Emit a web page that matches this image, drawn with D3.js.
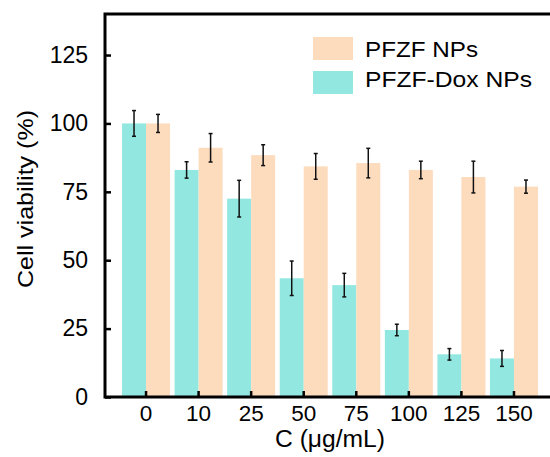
<!DOCTYPE html>
<html><head><meta charset="utf-8">
<script src="https://cdn.jsdelivr.net/npm/d3@7"></script>
<style>body{margin:0;background:#fff}svg{display:block;font-family:"Liberation Sans",Arial,sans-serif}</style>
</head><body><svg id="c" width="550" height="457"></svg>
<script>
const categories = ["0","10","25","50","75","100","125","150"];
const doxValues = [100, 83, 72.5, 43.4, 40.9, 24.5, 15.6, 14.1];
const doxErrors = [4.7, 3, 6.7, 6.3, 4.3, 2.1, 2.1, 2.9];
const npValues = [100, 91.1, 88.4, 84.3, 85.5, 83, 80.4, 76.9];
const npErrors = [3.3, 5.2, 3.8, 4.7, 5.4, 3.2, 5.8, 2.4];
const yTicks = [0, 25, 50, 75, 100, 125];
const seriesNames = ["PFZF NPs", "PFZF-Dox NPs"];
const colors = {np: "#fddbbd", dox: "#92e8e0"};

(function(){
const svg = d3.select("#c");
const mL = 105, mT = 14, mB = 397, mR = 550;
const x = d3.scaleBand().domain(categories).range([119.75, 540.25]).paddingInner(0).paddingOuter(0);
const y = d3.scaleLinear().domain([0, 140]).range([mB, mT]);
const bw = 24;

const g = svg.append("g");
categories.forEach((c, i) => {
  const cx = x(c) + x.bandwidth() / 2;
  g.append("rect").attr("x", cx - bw).attr("width", bw).attr("y", y(doxValues[i])).attr("height", y(0) - y(doxValues[i])).attr("fill", colors.dox);
  g.append("rect").attr("x", cx).attr("width", bw).attr("y", y(npValues[i])).attr("height", y(0) - y(npValues[i])).attr("fill", colors.np);
});
function errBar(cx, v, e) {
  const eg = g.append("g").attr("stroke", "#111").attr("stroke-width", 1.5);
  eg.append("line").attr("x1", cx).attr("x2", cx).attr("y1", y(v + e)).attr("y2", y(v - e));
  eg.append("line").attr("x1", cx - 2).attr("x2", cx + 2).attr("y1", y(v + e)).attr("y2", y(v + e));
  eg.append("line").attr("x1", cx - 2).attr("x2", cx + 2).attr("y1", y(v - e)).attr("y2", y(v - e));
}
categories.forEach((c, i) => {
  const cx = x(c) + x.bandwidth() / 2;
  errBar(cx - bw / 2, doxValues[i], doxErrors[i]);
  errBar(cx + bw / 2, npValues[i], npErrors[i]);
});

const yAxis = svg.append("g").attr("transform", `translate(${mL},0)`)
  .call(d3.axisLeft(y).tickValues(yTicks).tickSize(-6).tickPadding(17).tickSizeOuter(0));
yAxis.select(".domain").remove();
yAxis.selectAll(".tick line").attr("stroke", "#000").attr("stroke-width", 2.5);
yAxis.selectAll("text").attr("font-size", 23).attr("fill", "#000");

const xAxis = svg.append("g").attr("transform", `translate(0,${mB})`)
  .call(d3.axisBottom(x).tickSize(-6).tickPadding(8).tickSizeOuter(0));
xAxis.select(".domain").remove();
xAxis.selectAll(".tick line").attr("stroke", "#000").attr("stroke-width", 2.5);
xAxis.selectAll("text").attr("font-size", 22.5).attr("fill", "#000");

svg.append("path").attr("d", `M${mR},${mT}H${mL}V${mB}H${mR}`)
  .attr("fill", "none").attr("stroke", "#000").attr("stroke-width", 3);

svg.append("text").attr("x", 330).attr("y", 447).attr("text-anchor", "middle").attr("font-size", 23)
  .attr("textLength", 110).attr("lengthAdjust", "spacingAndGlyphs").text("C (μg/mL)");
svg.append("text").attr("transform", "translate(33,199) rotate(-90)").attr("text-anchor", "middle").attr("font-size", 22.5)
  .attr("textLength", 178).attr("lengthAdjust", "spacingAndGlyphs").text("Cell viability (%)");

const leg = svg.append("g");
const legLens = [113, 167];
[[seriesNames[0], colors.np], [seriesNames[1], colors.dox]].forEach((d, i) => {
  leg.append("rect").attr("x", 313).attr("y", 37 + i * 34).attr("width", 40).attr("height", 23).attr("fill", d[1]);
  leg.append("text").attr("x", 365).attr("y", 57 + i * 30).attr("font-size", 22.5).attr("fill", "#000")
    .attr("textLength", legLens[i]).attr("lengthAdjust", "spacingAndGlyphs").text(d[0]);
});
})();
</script></body></html>
